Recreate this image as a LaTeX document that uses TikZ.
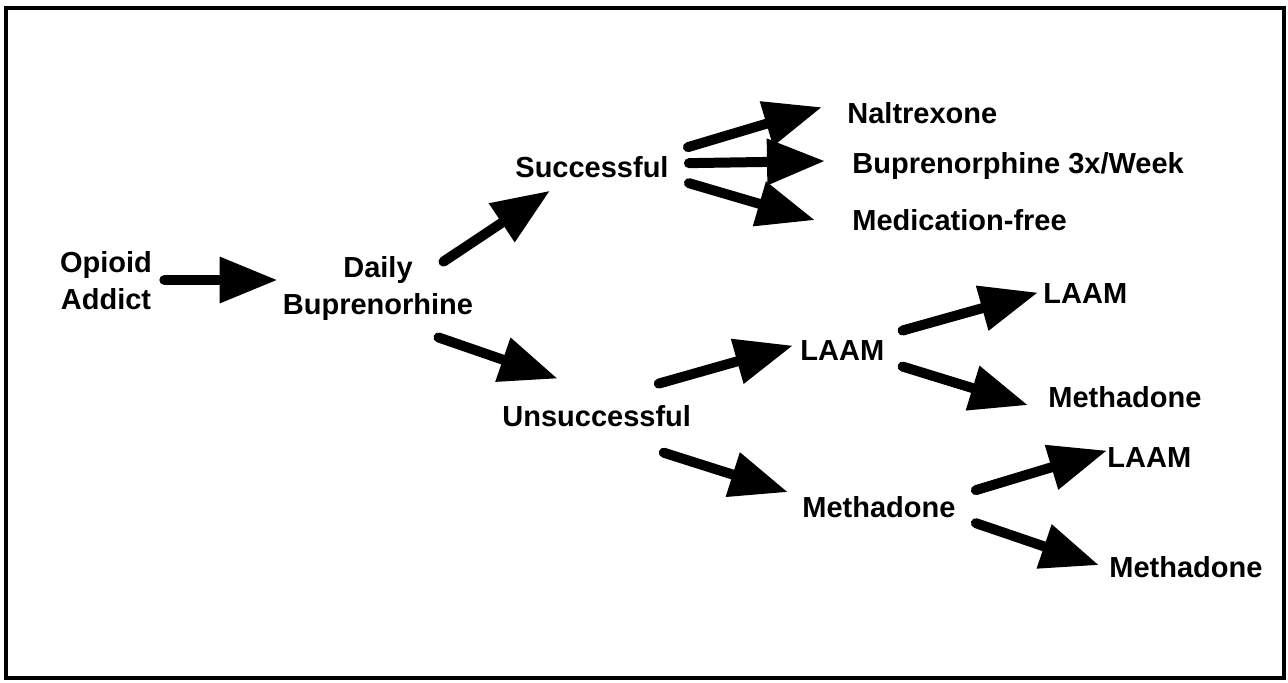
\documentclass[tikz,border=0pt]{standalone}
\usepackage{fontspec}
\setmainfont{Liberation Sans}
\usetikzlibrary{arrows.meta}

\begin{document}
\begin{tikzpicture}[x=0.5pt,y=-0.5pt,
    >={Triangle[length=29pt,width=22pt]},
    every node/.style={inner sep=0pt,font=\bfseries\fontsize{14.5}{18.5}\selectfont},
    fat/.style={->,line width=5pt,line cap=round}]
    \useasboundingbox (0,0) rectangle (1288,682);
    \draw[line width=2pt] (6,8) rectangle (1284,678);
    % first stage
    \node[align=center] (addict) at (106,281) {Opioid\\Addict};
    \node[align=center] (daily) at (378,288) {Daily\\Buprenorhine};
    \node[anchor=base west] (succ) at (515,177) {Successful};
    \node[anchor=base west] (unsucc) at (502,426) {Unsuccessful};
    % after success
    \node[anchor=base west] (naltrex) at (847,123) {Naltrexone};
    \node[anchor=base west] (bup3) at (852,173) {Buprenorphine 3x/Week};
    \node[anchor=base west] (medfree) at (852,230) {Medication-free};
    % after failure
    \node[anchor=base west] (laam) at (800,360) {LAAM};
    \node[anchor=base west] (meth) at (802,517) {Methadone};
    \node[anchor=base west] (laamA) at (1043,303) {LAAM};
    \node[anchor=base west] (methA) at (1048,407) {Methadone};
    \node[anchor=base west] (laamB) at (1107,467) {LAAM};
    \node[anchor=base west] (methB) at (1109,577) {Methadone};

    \draw[fat] ([shift={(12,-1)}]addict.east) -- ([shift={(-5,-8)}]daily.west);
    \draw[fat] ([shift={(-30,6)}]daily.north east) -- ([shift={(35,13)}]succ.south west);
    \draw[fat] ([shift={(-35,17)}]daily.south east) -- ([shift={(-39,-26)}]unsucc.north);
    \draw[fat] ([shift={(19,-19.5)}]succ.east) -- ([shift={(-25,-5.5)}]naltrex.west);
    \draw[fat] ([shift={(20,-3.5)}]succ.east) -- ([shift={(-27,-4.5)}]bup3.west);
    \draw[fat] ([shift={(20,16.5)}]succ.east) -- ([shift={(-37,0.5)}]medfree.west);
    \draw[fat] ([shift={(-32.6,-21)}]unsucc.north east) -- ([shift={(-7,-4.5)}]laam.west);
    \draw[fat] ([shift={(-27.6,26)}]unsucc.south east) -- ([shift={(-14,-14.5)}]meth.west);
    \draw[fat] ([shift={(18,-19.5)}]laam.east) -- ([shift={(-5,-0.5)}]laamA.west);
    \draw[fat] ([shift={(18,16.5)}]laam.east) -- ([shift={(-20,8.5)}]methA.west);
    \draw[fat] ([shift={(20,-16.5)}]meth.east) -- ([shift={(0,-6.5)}]laamB.west);
    \draw[fat] ([shift={(20,16.5)}]meth.east) -- ([shift={(-10,-1.5)}]methB.west);
\end{tikzpicture}
\end{document}
